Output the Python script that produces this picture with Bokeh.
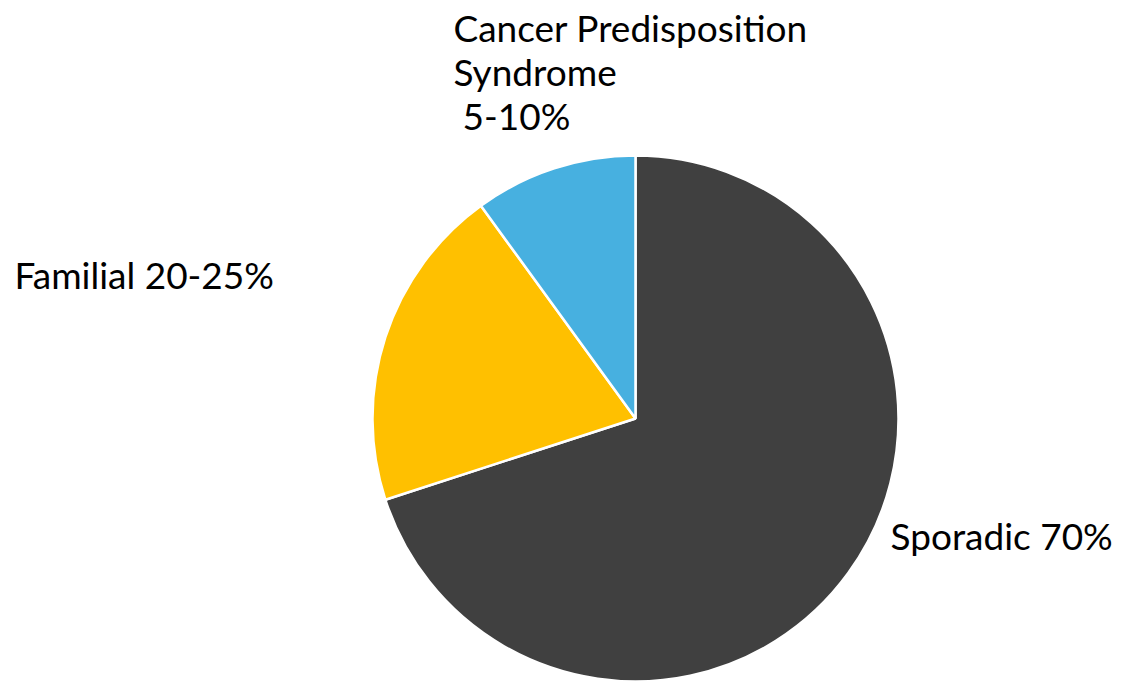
import numpy as np
from bokeh.plotting import figure
from bokeh.models import Range1d
from bokeh.core.properties import value
from bokeh.embed import file_html
from bokeh.resources import INLINE

# Data
categories = ["Sporadic", "Familial", "Cancer Predisposition Syndrome"]
values = [70, 20, 10]
colors = ["#404040", "#FFC000", "#47B0E0"]

W, H = 1122, 685
p = figure(width=W, height=H, output_backend="svg", toolbar_location=None,
           x_range=Range1d(0, W), y_range=Range1d(0, H),
           min_border=0, outline_line_color=None)
p.axis.visible = False
p.grid.visible = False
p.background_fill_color = "white"
p.border_fill_color = "white"

cx, cy, r = 635, H - 418, 263
vals = np.array(values, dtype=float)
fr = vals / vals.sum()
ends = np.cumsum(fr) * 2 * np.pi
starts = np.concatenate([[0], ends[:-1]])
start_angle = np.pi / 2 - starts
end_angle = np.pi / 2 - ends

p.wedge(x=cx, y=cy, radius=r, start_angle=start_angle, end_angle=end_angle,
        direction="clock", fill_color=colors, line_color="white", line_width=2.5)

font = value("Lato")
fs = "37px"
label_lines = [("Cancer Predisposition", 453, 27), ("Syndrome", 453, 71), ("5-10%", 462, 115),
               ("Familial 20-25%", 14, 274), ("Sporadic 70%", 890, 535)]
p.text(x=[l[1] for l in label_lines], y=[H - l[2] for l in label_lines],
       text=[l[0] for l in label_lines], text_font=font, text_font_size=fs,
       text_color="black", text_align="left", text_baseline="middle")

open("out.html", "w").write(file_html(p, INLINE))
